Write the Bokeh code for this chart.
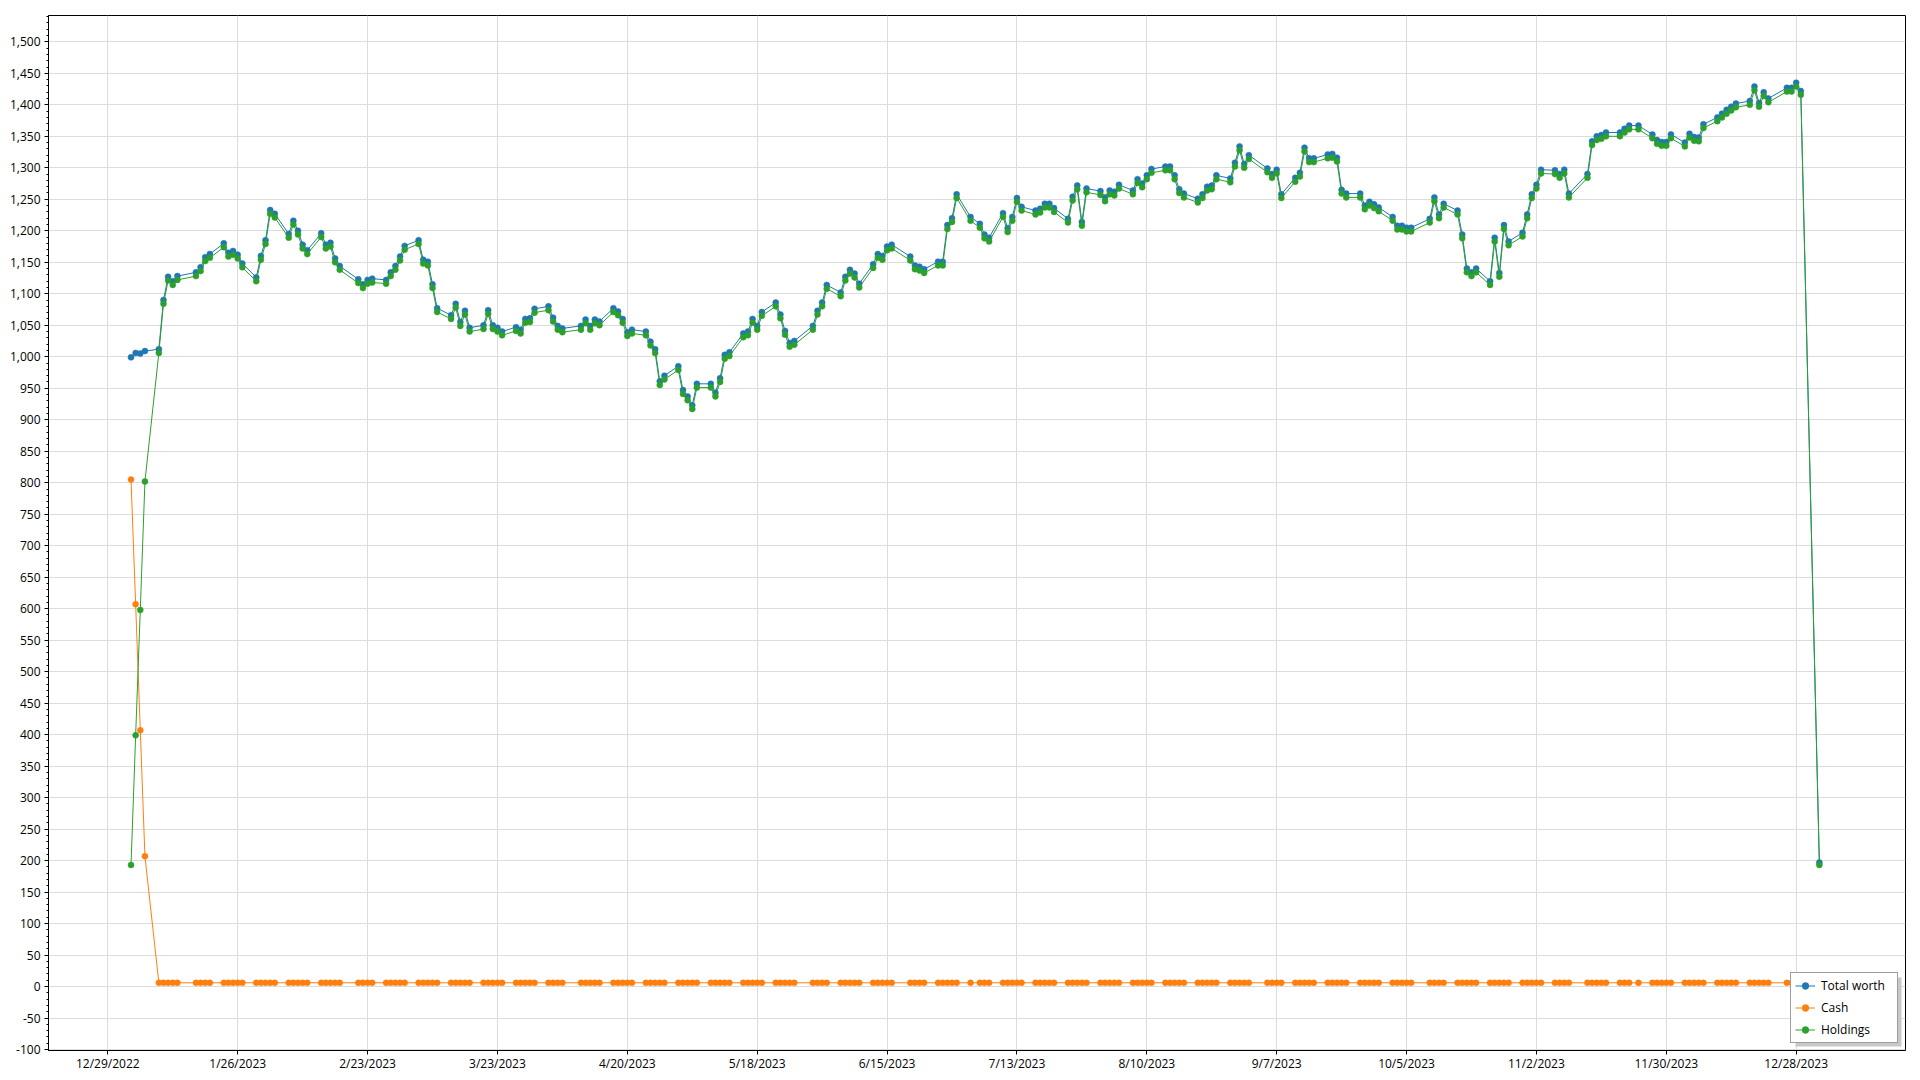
import pandas as pd
from bokeh.plotting import figure
from bokeh.models import (Range1d, FixedTicker, SingleIntervalTicker, NumeralTickFormatter,
                          DatetimeTickFormatter, Legend, LegendItem, BoxAnnotation)
from bokeh.embed import file_html
from bokeh.resources import INLINE

# ---------------- data ----------------
market_holidays = ["2023-01-16", "2023-02-20", "2023-04-07", "2023-05-29", "2023-06-19",
                   "2023-07-04", "2023-09-04", "2023-10-09", "2023-11-10", "2023-11-23",
                   "2023-12-25"]
dates = list(pd.bdate_range("2023-01-03", "2023-12-29", freq="C", holidays=market_holidays))
dates += [pd.Timestamp("2024-01-02")]

total_worth = [
    999, 1006, 1005, 1009, 1012, 1090, 1127, 1120, 1128, 1134, 1142, 1158, 1163, 1180, 1165, 1168, 1162, 1148, 1126, 1160,
    1185, 1233, 1227, 1195, 1216, 1200, 1178, 1169, 1196, 1178, 1181, 1156, 1144, 1123, 1115, 1122, 1124, 1122, 1134,
    1144, 1159, 1176, 1185, 1154, 1151, 1115, 1077, 1066, 1084, 1055, 1073, 1046, 1050, 1074, 1050, 1046, 1040, 1047, 1043, 1060, 1061, 1076,
    1080, 1062, 1049, 1045, 1049, 1059, 1049, 1059, 1056, 1077, 1072, 1060, 1039, 1043, 1040, 1024, 1012, 961, 970,
    985, 947, 937, 923, 957, 957, 943, 966, 1003, 1007, 1037, 1040, 1060, 1049, 1071, 1086, 1067, 1041, 1022, 1025, 1049, 1073,
    1086, 1114, 1102, 1127, 1138, 1132, 1116, 1147, 1163, 1160, 1175, 1178, 1159, 1145, 1143, 1139, 1151, 1151, 1209, 1220, 1258,
    1222, 1211, 1194, 1189, 1228, 1204, 1222, 1252, 1238, 1232, 1235, 1243, 1243, 1236, 1219, 1254, 1272, 1214, 1267, 1263,
    1253, 1264, 1262, 1273, 1264, 1282, 1275, 1288, 1298, 1302, 1302, 1288, 1266, 1259, 1251, 1258, 1270, 1272, 1288, 1283, 1308, 1334, 1306,
    1320, 1299, 1290, 1297, 1258, 1284, 1292, 1332, 1315, 1315, 1321, 1322, 1316, 1265, 1259, 1259, 1240, 1246, 1242, 1237,
    1222, 1208, 1208, 1205, 1205, 1219, 1253, 1226, 1243, 1232, 1194, 1140, 1134, 1140, 1120, 1189, 1133, 1209, 1183, 1197, 1226,
    1258, 1273, 1297, 1296, 1290, 1297, 1259, 1290, 1342, 1350, 1352, 1356, 1356, 1362, 1367, 1367, 1353, 1344, 1341, 1341,
    1353, 1340, 1354, 1349, 1348, 1369, 1380, 1386, 1392, 1397, 1402, 1406, 1429, 1403, 1420, 1410, 1427, 1427, 1435, 1422,
    197,
]

cash = [
    805, 607, 407, 207, 6, 6, 6, 6, 6, 6, 6, 6, 6, 6, 6, 6, 6, 6, 6, 6,
    6, 6, 6, 6, 6, 6, 6, 6, 6, 6, 6, 6, 6, 6, 6, 6, 6, 6, 6,
    6, 6, 6, 6, 6, 6, 6, 6, 6, 6, 6, 6, 6, 6, 6, 6, 6, 6, 6, 6, 6, 6, 6,
    6, 6, 6, 6, 6, 6, 6, 6, 6, 6, 6, 6, 6, 6, 6, 6, 6, 6, 6,
    6, 6, 6, 6, 6, 6, 6, 6, 6, 6, 6, 6, 6, 6, 6, 6, 6, 6, 6, 6, 6, 6,
    6, 6, 6, 6, 6, 6, 6, 6, 6, 6, 6, 6, 6, 6, 6, 6, 6, 6, 6, 6, 6,
    6, 6, 6, 6, 6, 6, 6, 6, 6, 6, 6, 6, 6, 6, 6, 6, 6, 6, 6, 6,
    6, 6, 6, 6, 6, 6, 6, 6, 6, 6, 6, 6, 6, 6, 6, 6, 6, 6, 6, 6, 6, 6, 6,
    6, 6, 6, 6, 6, 6, 6, 6, 6, 6, 6, 6, 6, 6, 6, 6, 6, 6, 6, 6,
    6, 6, 6, 6, 6, 6, 6, 6, 6, 6, 6, 6, 6, 6, 6, 6, 6, 6, 6, 6, 6,
    6, 6, 6, 6, 6, 6, 6, 6, 6, 6, 6, 6, 6, 6, 6, 6, 6, 6, 6, 6,
    6, 6, 6, 6, 6, 6, 6, 6, 6, 6, 6, 6, 6, 6, 6, 6, 6, 6, 6, 6,
    4,
]

holdings = [
    193, 399, 598, 802, 1006, 1084, 1121, 1114, 1122, 1128, 1136, 1152, 1157, 1174, 1159, 1162, 1156, 1142, 1120, 1154,
    1179, 1227, 1221, 1189, 1210, 1194, 1172, 1163, 1190, 1172, 1175, 1150, 1138, 1117, 1109, 1116, 1118, 1116, 1128,
    1138, 1153, 1170, 1179, 1148, 1145, 1109, 1071, 1060, 1078, 1049, 1067, 1040, 1044, 1068, 1044, 1040, 1034, 1041, 1037, 1054, 1055, 1070,
    1074, 1056, 1043, 1039, 1043, 1053, 1043, 1053, 1050, 1071, 1066, 1054, 1033, 1037, 1034, 1018, 1006, 955, 964,
    979, 941, 931, 917, 951, 951, 937, 960, 997, 1001, 1031, 1034, 1054, 1043, 1065, 1080, 1061, 1035, 1016, 1019, 1043, 1067,
    1080, 1108, 1096, 1121, 1132, 1126, 1110, 1141, 1157, 1154, 1169, 1172, 1153, 1139, 1137, 1133, 1145, 1145, 1203, 1214, 1252,
    1216, 1205, 1188, 1183, 1222, 1198, 1216, 1246, 1232, 1226, 1229, 1237, 1237, 1230, 1213, 1248, 1266, 1208, 1261, 1257,
    1247, 1258, 1256, 1267, 1258, 1276, 1269, 1282, 1292, 1296, 1296, 1282, 1260, 1253, 1245, 1252, 1264, 1266, 1282, 1277, 1302, 1328, 1300,
    1314, 1293, 1284, 1291, 1252, 1278, 1286, 1326, 1309, 1309, 1315, 1316, 1310, 1259, 1253, 1253, 1234, 1240, 1236, 1231,
    1216, 1202, 1202, 1199, 1199, 1213, 1247, 1220, 1237, 1226, 1188, 1134, 1128, 1134, 1114, 1183, 1127, 1203, 1177, 1191, 1220,
    1252, 1267, 1291, 1290, 1284, 1291, 1253, 1284, 1336, 1344, 1346, 1350, 1350, 1356, 1361, 1361, 1347, 1338, 1335, 1335,
    1347, 1334, 1348, 1343, 1342, 1363, 1374, 1380, 1386, 1391, 1396, 1400, 1423, 1397, 1414, 1404, 1421, 1421, 1429, 1416,
    193,
]

x_tick_dates = ["2022-12-29", "2023-01-26", "2023-02-23", "2023-03-23", "2023-04-20", "2023-05-18",
                "2023-06-15", "2023-07-13", "2023-08-10", "2023-09-07", "2023-10-05", "2023-11-02",
                "2023-11-30", "2023-12-28"]

series_names = ["Total worth", "Cash", "Holdings"]
series_colors = ["#1f77b4", "#ff7f0e", "#2ca02c"]

# ---------------- figure ----------------
FONT = "Open Sans"
x_start = pd.Timestamp("2022-12-29") - pd.Timedelta(days=12.79)
x_end = pd.Timestamp("2023-12-28") + pd.Timedelta(days=23.57)

W, H = 1920, 1080
BL, BR, BT, BB = 48, 15, 15, 30

p = figure(width=W, height=H, x_axis_type="datetime",
           x_range=Range1d(x_start, x_end), y_range=Range1d(-101.5, 1541.8),
           output_backend="svg", toolbar_location=None,
           min_border_left=BL, min_border_right=BR, min_border_top=BT, min_border_bottom=BB)
p.background_fill_color = "white"
p.border_fill_color = "white"
p.outline_line_color = "black"
p.outline_line_width = 1
p.outline_line_alpha = 1

tick_ms = [pd.Timestamp(d).value // 10**6 for d in x_tick_dates]
p.xaxis.ticker = FixedTicker(ticks=tick_ms, minor_ticks=[])
fmt = "%-m/%-d/%Y"
p.xaxis.formatter = DatetimeTickFormatter(days=fmt, months=fmt, years=fmt, hours=fmt,
                                          minutes=fmt, seconds=fmt, milliseconds=fmt,
                                          microseconds=fmt, minsec=fmt, hourmin=fmt)
p.yaxis.ticker = SingleIntervalTicker(interval=50, num_minor_ticks=5)
p.yaxis.formatter = NumeralTickFormatter(format="0,0")

for ax in (p.xaxis, p.yaxis):
    ax.axis_line_color = "black"
    ax.axis_line_width = 1
    ax.major_tick_line_color = "black"
    ax.minor_tick_line_color = "black"
    ax.major_tick_in = 0
    ax.major_tick_out = 4
    ax.minor_tick_in = 0
    ax.minor_tick_out = 2
    ax.major_label_text_font = FONT
    ax.major_label_text_font_size = "12px"
    ax.major_label_text_color = "black"
p.xaxis.major_label_standoff = 0
p.yaxis.major_label_standoff = 4

p.xgrid.ticker = p.xaxis.ticker
p.xgrid.grid_line_color = "#dcdcdc"
p.ygrid.grid_line_color = "#dcdcdc"
p.xgrid.grid_line_width = 1
p.ygrid.grid_line_width = 1

items = []
for name, color, vals in zip(series_names, series_colors, [total_worth, cash, holdings]):
    ln = p.line(dates, vals, line_color=color, line_width=1)
    sc = p.scatter(dates, vals, marker="circle", size=6, fill_color=color, line_color=color, line_width=0.5)
    items.append(LegendItem(label=name, renderers=[ln, sc]))

# legend drop shadow (canvas pixels)
LEG_W, LEG_H, LEG_M = 106, 69, 7
leg_right = W - BR - LEG_M
leg_bottom = H - BB - LEG_M
shadow = BoxAnnotation(left=leg_right - LEG_W + 3, right=leg_right + 3,
                       top=leg_bottom - LEG_H + 3, bottom=leg_bottom + 3,
                       left_units="canvas", right_units="canvas",
                       top_units="canvas", bottom_units="canvas",
                       fill_color="#c8c8c8", fill_alpha=1, line_color=None)
p.add_layout(shadow)

legend = Legend(items=items, location="bottom_right")
legend.margin = LEG_M
legend.padding = 4
legend.spacing = 5
legend.glyph_width = 20
legend.glyph_height = 17
legend.label_height = 17
legend.label_width = 72
legend.label_standoff = 6
legend.label_text_font = FONT
legend.label_text_font_size = "12px"
legend.label_text_color = "black"
legend.border_line_color = "#3c3c3c"
legend.border_line_width = 1
legend.background_fill_color = "white"
legend.background_fill_alpha = 1
p.add_layout(legend)

open("out.html", "w").write(file_html(p, INLINE))
